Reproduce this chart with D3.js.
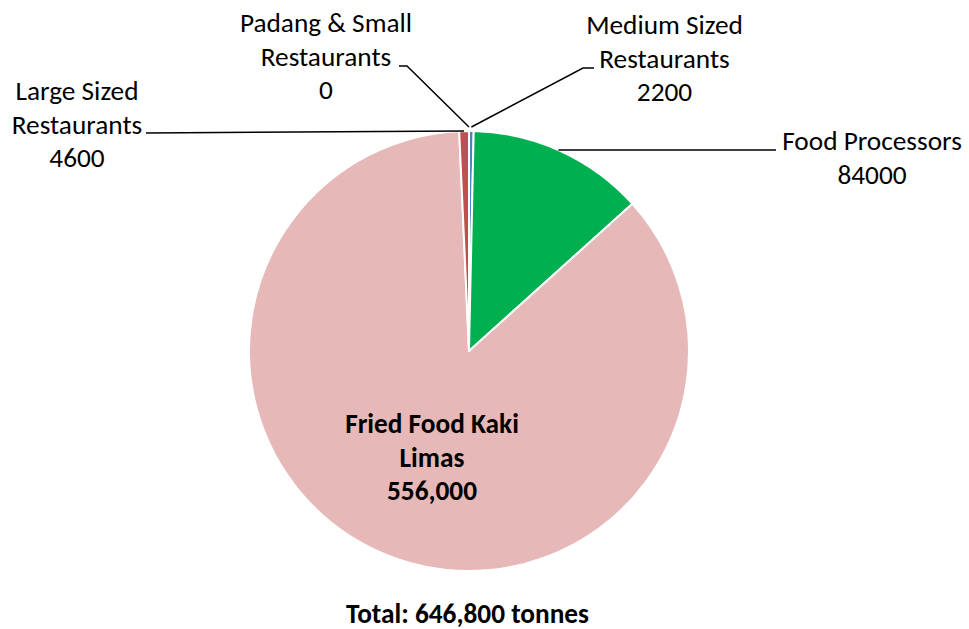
<!DOCTYPE html>
<html>
<head>
<meta charset="utf-8">
<script src="https://cdn.jsdelivr.net/npm/d3@7"></script>
<style>
  html, body { margin: 0; padding: 0; background: #fff; }
  svg { display: block; }
  text { font-family: Carlito, Calibri, Lato, "Open Sans", sans-serif; fill: #000; }
</style>
</head>
<body>
<svg id="chart" width="969" height="629"></svg>
<script>
// ---- data ----
const categories = ["Medium Sized Restaurants", "Food Processors", "Fried Food Kaki Limas", "Large Sized Restaurants", "Padang & Small Restaurants"];
const values = [2200, 84000, 556000, 4600, 0];
const valueLabels = ["2200", "84000", "556,000", "4600", "0"];
const labelLines = [["Medium Sized", "Restaurants"], ["Food Processors"], ["Fried Food Kaki", "Limas"], ["Large Sized", "Restaurants"], ["Padang & Small", "Restaurants"]];
const colors = ["#4F81BD", "#00B050", "#E6B8B7", "#C0504D", "#9BBB59"];
const totalLabel = "Total: 646,800 tonnes";

// ---- layout ----
const W = 969, H = 629;
const cx = 469, cy = 351, R = 220;
const fs = 27.3, lh = 33.5;
// label anchor (center x, first baseline y), leader elbow
const labelPos = [
  { x: 664.5, y: 34, bold: false, inside: false, lineFrom: [594, 68], elbow: [583, 68] },
  { x: 872, y: 150, bold: false, inside: false, lineFrom: [776, 150], elbow: null },
  { x: 432, y: 433, bold: true, inside: true },
  { x: 77, y: 100, bold: false, inside: false, lineFrom: [146, 133], elbow: null },
  { x: 326, y: 32, bold: false, inside: false, lineFrom: [399, 66], elbow: [407, 66] }
];

const svg = d3.select("#chart");
const data = categories.map((c, i) => ({ name: c, value: values[i], i }));

const pie = d3.pie().value(d => d.value).sort(null).startAngle(0).endAngle(2 * Math.PI);
const arcs = pie(data);
const arc = d3.arc().innerRadius(0).outerRadius(R);

const g = svg.append("g").attr("transform", `translate(${cx},${cy})`);
g.selectAll("path.slice")
  .data(arcs.filter(a => a.data.value > 0))
  .enter().append("path")
  .attr("class", "slice")
  .attr("d", arc)
  .attr("fill", d => colors[d.data.i])
  .attr("stroke", "#fff")
  .attr("stroke-width", 2)
  .attr("stroke-linejoin", "round");

// leader lines
function edgePoint(a, rr) {
  const ang = (a.startAngle + a.endAngle) / 2;
  return [cx + rr * Math.sin(ang), cy - rr * Math.cos(ang)];
}
arcs.forEach((a, i) => {
  const p = labelPos[i];
  if (p.inside) return;
  let end;
  if (i === 1) {
    const dy = p.lineFrom[1] - cy;
    end = [cx + Math.sqrt(R * R - dy * dy), p.lineFrom[1]];
  } else if (i === 3) {
    end = edgePoint(a, R);
    end = [end[0], p.lineFrom[1] - 2];
  } else {
    end = edgePoint(a, R + 4);
  }
  const pts = [p.lineFrom];
  if (p.elbow) pts.push(p.elbow);
  pts.push(end);
  svg.append("path")
    .attr("d", d3.line()(pts))
    .attr("fill", "none")
    .attr("stroke", "#000")
    .attr("stroke-width", 1.5);
});

// labels
arcs.forEach((a, i) => {
  const p = labelPos[i];
  const lines = labelLines[i].concat([valueLabels[i]]);
  const t = svg.append("text")
    .attr("text-anchor", "middle")
    .attr("font-size", fs)
    .attr("font-weight", p.bold ? "bold" : "normal");
  lines.forEach((ln, k) => {
    t.append("tspan").attr("x", p.x).attr("y", p.y + k * lh).text(ln);
  });
});

svg.append("text")
  .attr("x", 467.5).attr("y", 623)
  .attr("text-anchor", "middle")
  .attr("font-size", 27.3)
  .attr("font-weight", "bold")
  .text(totalLabel);
</script>
</body>
</html>
